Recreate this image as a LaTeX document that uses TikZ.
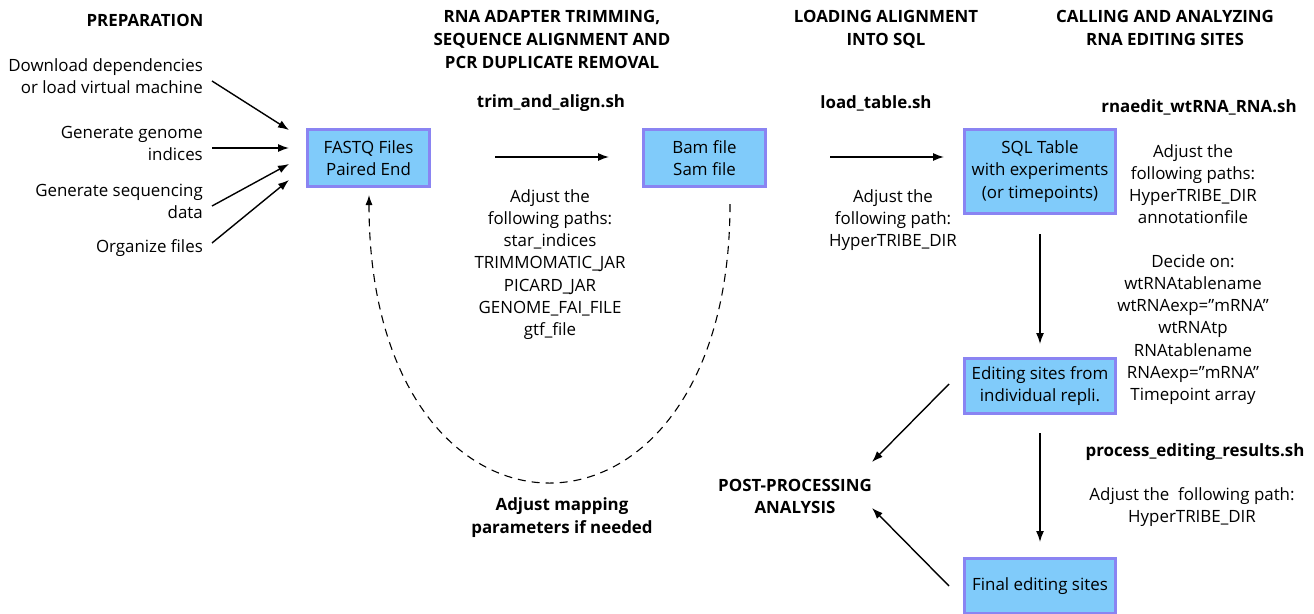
\documentclass[tikz,border=0pt]{standalone}
\usepackage{fontspec}
\setmainfont{Open Sans}
\usetikzlibrary{arrows.meta}
\definecolor{boxfill}{HTML}{80CBFA}
\definecolor{boxline}{HTML}{8A84F2}
\begin{document}
\begin{tikzpicture}[x=1pt,y=-1pt,
  every node/.style={font=\fontsize{16.9}{22.3}\selectfont, inner sep=0pt},
  stepbox/.style={draw=boxline, fill=boxfill, line width=3pt, align=center},
  head/.style={font=\fontsize{16.9}{22.8}\selectfont\bfseries, align=center},
  note/.style={align=center},
  flow/.style={line width=1.4pt, -{Latex[length=11pt,width=8pt]}},
  back/.style={line width=1.1pt, dash pattern=on 8pt off 6pt, -{Latex[length=10pt,width=7pt]}}]
\useasboundingbox (0,0) rectangle (1314,613);
\clip (0,0) rectangle (1314,613);

% column headings
\node[head] (h1) at (145,20) {PREPARATION};
\node[head, anchor=north] (h2) at (552,10) {RNA ADAPTER TRIMMING,\\SEQUENCE ALIGNMENT AND\\PCR DUPLICATE REMOVAL};
\node[head, anchor=north] (h3) at (886,10) {LOADING ALIGNMENT\\INTO SQL};
\node[head, anchor=north] (h4) at (1165,10) {CALLING AND ANALYZING\\RNA EDITING SITES};

% preparation inputs
\node[align=right, anchor=east] (p1) at (203,76.5) {Download dependencies\\or load virtual machine};
\node[align=right, anchor=east] (p2) at (203,143.5) {Generate genome\\indices};
\node[align=right, anchor=east] (p3) at (203,201.5) {Generate sequencing\\data};
\node[align=right, anchor=east] (p4) at (203,248) {Organize files};

% pipeline boxes
\node[stepbox, minimum width=122pt, minimum height=57pt] (fastq) at (368.5,158) {FASTQ Files\\Paired End};
\node[stepbox, minimum width=122pt, minimum height=57pt] (bam) at (704.5,158) {Bam file\\Sam file};
\node[stepbox, minimum width=151pt, minimum height=84pt] (sql) at (1040,171.5) {SQL Table\\with experiments\\(or timepoints)};
\node[stepbox, minimum width=151pt, minimum height=55pt] (edit) at (1040,386) {Editing sites from\\individual repli.};
\node[stepbox, minimum width=151pt, minimum height=55pt] (final) at (1040,586) {Final editing sites};
\node[head] (post) at (795,496.5) {POST-PROCESSING\\ANALYSIS};

% script names and notes
\node[head] (s1) at (551,103) {trim\_and\_align.sh};
\node[note, anchor=north] (n1) at (550,189) {Adjust the\\following paths:\\star\_indices\\TRIMMOMATIC\_JAR\\PICARD\_JAR\\GENOME\_FAI\_FILE\\gtf\_file};
\node[head] (s2) at (876,103) {load\_table.sh};
\node[note, anchor=north] (n2) at (893,189) {Adjust the\\following path:\\HyperTRIBE\_DIR};
\node[head] (s3) at (1199,107) {rnaedit\_wtRNA\_RNA.sh};
\node[note, anchor=north] (n3) at (1193,144) {Adjust the\\following paths:\\HyperTRIBE\_DIR\\annotationfile};
\node[note, anchor=north] (n4) at (1193,254) {Decide on:\\wtRNAtablename\\wtRNAexp=\symbol{34}mRNA\symbol{34}\\wtRNAtp\\RNAtablename\\RNAexp=\symbol{34}mRNA\symbol{34}\\Timepoint array};
\node[head] (s4) at (1195,452) {process\_editing\_results.sh};
\node[note, anchor=north] (n5) at (1192,487) {Adjust the\ \ following path:\\HyperTRIBE\_DIR};
\node[head] (fb) at (562,518) {Adjust mapping\\parameters if needed};

% connector end points
\coordinate (a1s) at (212,81);
\coordinate (a1e) at (289,130);
\coordinate (a2s) at (212,148);
\coordinate (a2e) at (289,148);
\coordinate (a3s) at (212,206);
\coordinate (a3e) at (289,164);
\coordinate (a4s) at (212,243);
\coordinate (a4e) at (289,180);
\coordinate (t1s) at (495,157);
\coordinate (t1e) at (609,157);
\coordinate (t2s) at (830,157);
\coordinate (t2e) at (944,157);
\coordinate (v1s) at (1040,234);
\coordinate (v1e) at (1040,344);
\coordinate (v2s) at (1040,433);
\coordinate (v2e) at (1040,542);
\coordinate (d1s) at (949,384);
\coordinate (d1e) at (872,462);
\coordinate (d2s) at (949,586);
\coordinate (d2e) at (872,508);
\coordinate (cbs) at (730,204);
\coordinate (cbe) at (369,195);

% connectors
\draw[flow] (a1s) -- (a1e);
\draw[flow] (a2s) -- (a2e);
\draw[flow] (a3s) -- (a3e);
\draw[flow] (a4s) -- (a4e);
\draw[flow] (t1s) -- (t1e);
\draw[flow] (t2s) -- (t2e);
\draw[flow] (v1s) -- (v1e);
\draw[flow] (v2s) -- (v2e);
\draw[flow] (d1s) -- (d1e);
\draw[flow] (d2s) -- (d2e);
\draw[back] (cbs) .. controls (730,576) and (369,576) .. (cbe);
\end{tikzpicture}
\end{document}
